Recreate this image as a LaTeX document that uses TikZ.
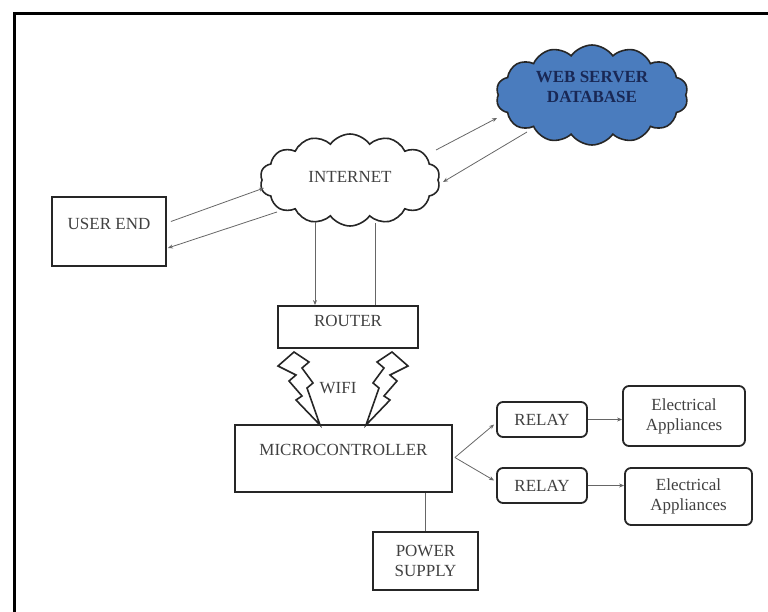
\documentclass[tikz,border=0pt]{standalone}
\usepackage{fontspec}
\setmainfont{Liberation Serif}
\usetikzlibrary{shapes.symbols,arrows.meta,calc}

\begin{document}
\begin{tikzpicture}[x=1pt, y=-1pt,
  every node/.append style={font=\fontsize{17}{20}\selectfont, text=black!75, align=center},
  blockbox/.style={draw=black!85, line width=1.8pt, inner sep=2pt},
  roundbox/.style={blockbox, rounded corners=6pt},
  netcloud/.style={cloud, draw=black!85, line width=1.6pt, cloud puffs=14, cloud puff arc=110, aspect=2, inner sep=0pt},
  link/.style={draw=black!60, line width=0.8pt},
  arr/.style={link, -{Stealth[length=5pt,width=4pt]}},
  bolt/.style={draw=black!85, line width=1.6pt, fill=white, line join=miter}]
\useasboundingbox (0,0) rectangle (768,612);
\draw[line width=3.5pt] (14.5,620) -- (14.5,13.5) -- (775,13.5);

\node[blockbox, minimum width=114pt, minimum height=69pt, text depth=16pt] (user) at (109,231.5) {USER END};
\node[netcloud, minimum width=180pt, minimum height=92pt, text depth=6pt] (inet) at (350,180) {INTERNET};
\node[netcloud, fill={rgb,255:red,74;green,124;blue,190}, minimum width=192pt, minimum height=100pt] (web) at (592,95) {};
\node[text={rgb,255:red,25;green,40;blue,85}, font=\fontsize{17}{20}\selectfont\bfseries] (webtext) at (592,87) {WEB SERVER\\DATABASE};
\node[blockbox, minimum width=140pt, minimum height=42pt, text depth=12pt] (router) at (348,327) {ROUTER};
\node[blockbox, minimum width=217pt, minimum height=67pt, text depth=17pt] (mcu) at (343.5,458.5) {MICROCONTROLLER};
\node[blockbox, minimum width=105pt, minimum height=58pt] (power) at (425.5,561) {POWER\\SUPPLY};
\node[roundbox, minimum width=90pt, minimum height=35pt] (relayA) at (542,419.5) {RELAY};
\node[roundbox, minimum width=90pt, minimum height=35pt] (relayB) at (542,485.5) {RELAY};
\node[roundbox, minimum width=122pt, minimum height=60pt] (loadA) at (684,416) {Electrical\\Appliances};
\node[roundbox, minimum width=127pt, minimum height=57pt] (loadB) at (688.5,496.5) {Electrical\\Appliances};
\node (wifi) at (338,388) {WIFI};

\draw[arr] ($(user.east)+(4,-10)$) -- ($(inet.center)+(-86,8)$);
\draw[arr] ($(inet.center)+(-73,32)$) -- ($(user.east)+(1,16.5)$);
\draw[arr] ($(inet.center)+(86,-30)$) -- ($(web.center)+(-95,23)$);
\draw[arr] ($(web.center)+(-65,37)$) -- ($(inet.center)+(93,2)$);
\draw[arr] ($(router.north)+(-33,-83)$) -- ($(router.north)+(-33,0)$);
\draw[link] ($(router.north)+(27,-82)$) -- ($(router.north)+(27,0)$);
\draw[link] (power.north) -- (power.north |- mcu.south);
\draw[arr] ($(mcu.east)+(2,-1)$) -- ($(relayA.west)+(-2,5)$);
\draw[arr] ($(mcu.east)+(2,-1)$) -- ($(relayB.west)+(-2,-5)$);
\draw[arr] (relayA.east) -- (relayA.east -| loadA.west);
\draw[arr] (relayB.east) -- (relayB.east -| loadB.west);

\draw[bolt] (294,352) -- (309,362) -- (302,368) -- (313,383) -- (307,388) -- (320,425)
  -- (296,400) -- (302,396) -- (289,381) -- (296,375) -- (278,366) -- cycle;
\begin{scope}[xshift=686pt, xscale=-1]
\draw[bolt] (294,352) -- (309,362) -- (302,368) -- (313,383) -- (307,388) -- (320,425)
  -- (296,400) -- (302,396) -- (289,381) -- (296,375) -- (278,366) -- cycle;
\end{scope}
\end{tikzpicture}
\end{document}
